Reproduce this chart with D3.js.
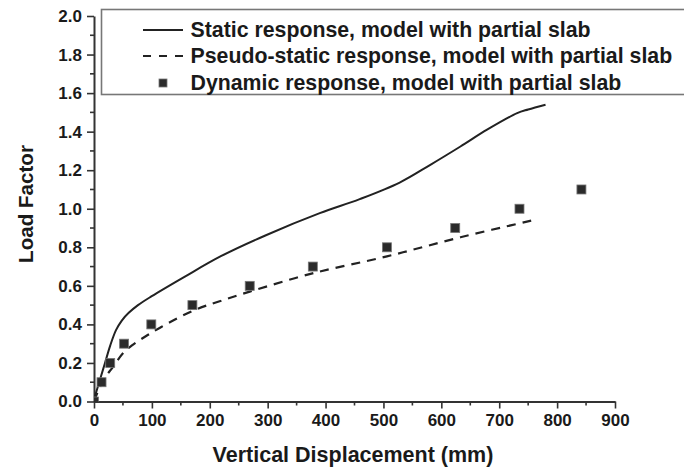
<!DOCTYPE html>
<html>
<head>
<meta charset="utf-8">
<script src="https://cdn.jsdelivr.net/npm/d3@7"></script>
<style>
  html, body { margin: 0; padding: 0; background: #fff; }
  svg { display: block; font-family: "Liberation Sans", Arial, sans-serif; font-weight: bold; }
</style>
</head>
<body>
<svg id="chart" width="684" height="468"></svg>
<script>
// Static response, model with partial slab (displacement mm, load factor)
const staticDisp = [0, 4, 10, 19, 28, 38, 48, 60, 76, 99, 157, 220, 298, 390, 459, 528, 581, 633, 679, 731, 750, 780];
const staticLoad = [0, 0.05, 0.11, 0.2, 0.29, 0.37, 0.42, 0.46, 0.50, 0.545, 0.648, 0.755, 0.864, 0.977, 1.05, 1.136, 1.228, 1.323, 1.41, 1.496, 1.515, 1.54];

// Pseudo-static response, model with partial slab
const pseudoDisp = [0, 8, 18, 33, 50, 65, 88, 117, 174, 217, 269, 379, 506, 633, 765];
const pseudoLoad = [0, 0.06, 0.12, 0.18, 0.25, 0.29, 0.336, 0.388, 0.475, 0.52, 0.57, 0.666, 0.753, 0.852, 0.945];

// Dynamic response, model with partial slab
const dynDisp = [0, 13, 28, 52, 99, 170, 269, 378, 506, 624, 735, 842];
const dynLoad = [0, 0.1, 0.2, 0.3, 0.4, 0.5, 0.6, 0.7, 0.8, 0.9, 1.0, 1.1];

const xTicks = [0, 100, 200, 300, 400, 500, 600, 700, 800, 900];
const yTicks = [0.0, 0.2, 0.4, 0.6, 0.8, 1.0, 1.2, 1.4, 1.6, 1.8, 2.0];

const legendLabels = [
  "Static response, model with partial slab",
  "Pseudo-static response, model with partial slab",
  "Dynamic response, model with partial slab"
];

const svg = d3.select("#chart");
const ink = "#1a1a1a";

const x = d3.scaleLinear().domain([0, 900]).range([94, 615]);
const y = d3.scaleLinear().domain([0, 2]).range([401.5, 16]);

// clip region for the plotted data
svg.append("defs").append("clipPath").attr("id", "plotArea")
  .append("rect")
  .attr("x", x(0)).attr("y", y(2))
  .attr("width", x(900) - x(0)).attr("height", y(0) - y(2));

// axes: major ticks with labels, minor ticks in between
const xMinor = d3.range(50, 900, 100);
const yMinor = d3.range(0.1, 2.0, 0.2);

const xAxis = svg.append("g").attr("transform", `translate(0,${y(0)})`);
xAxis.call(d3.axisBottom(x).tickValues(xTicks).tickFormat(d3.format("d")).tickSize(7).tickSizeOuter(0).tickPadding(5));
xAxis.append("g").selectAll("line").data(xMinor).join("line")
  .attr("x1", d => x(d)).attr("x2", d => x(d)).attr("y1", 0).attr("y2", 4);

const yAxis = svg.append("g").attr("transform", `translate(${x(0)},0)`);
yAxis.call(d3.axisLeft(y).tickValues(yTicks).tickFormat(d3.format(".1f")).tickSize(7).tickSizeOuter(0).tickPadding(5));
yAxis.append("g").selectAll("line").data(yMinor).join("line")
  .attr("y1", d => y(d)).attr("y2", d => y(d)).attr("x1", 0).attr("x2", -4);

[xAxis, yAxis].forEach(g => {
  g.selectAll("path.domain").attr("stroke", "#333").attr("stroke-width", 2);
  g.selectAll("line").attr("stroke", "#333").attr("stroke-width", 1.6);
  g.selectAll("text").attr("fill", ink).attr("font-size", 17).attr("font-weight", "bold")
    .attr("font-family", "Liberation Sans, Arial, sans-serif");
});

// axis titles
svg.append("text")
  .attr("x", 353).attr("y", 462)
  .attr("text-anchor", "middle")
  .attr("font-size", 21.5).attr("fill", ink)
  .text("Vertical Displacement (mm)");

svg.append("text")
  .attr("transform", "translate(33,204) rotate(-90)")
  .attr("text-anchor", "middle")
  .attr("font-size", 20.6).attr("fill", ink)
  .text("Load Factor");

// data
const plot = svg.append("g").attr("clip-path", "url(#plotArea)");
const line = d3.line().x(d => x(d[0])).y(d => y(d[1])).curve(d3.curveCatmullRom.alpha(0.5));

plot.append("path")
  .datum(staticDisp.map((d, i) => [d, staticLoad[i]]))
  .attr("d", line)
  .attr("fill", "none").attr("stroke", "#222").attr("stroke-width", 2);

plot.append("path")
  .datum(pseudoDisp.map((d, i) => [d, pseudoLoad[i]]))
  .attr("d", line)
  .attr("fill", "none").attr("stroke", "#222").attr("stroke-width", 2.2)
  .attr("stroke-dasharray", "9,7");

const sq = 9;
plot.selectAll("rect.dyn")
  .data(dynDisp.map((d, i) => [d, dynLoad[i]]))
  .join("rect")
  .attr("class", "dyn")
  .attr("x", d => x(d[0]) - sq / 2).attr("y", d => y(d[1]) - sq / 2)
  .attr("width", sq).attr("height", sq)
  .attr("fill", "#2b2b2b").attr("stroke", "#777").attr("stroke-width", 0.8);

// legend
const legend = svg.append("g");
legend.append("rect")
  .attr("x", 101.5).attr("y", 9.5)
  .attr("width", 620).attr("height", 85)
  .attr("fill", "#fff").attr("stroke", "#777").attr("stroke-width", 1.6);

const rowY = [30, 56, 83];
legend.append("line")
  .attr("x1", 143).attr("x2", 183).attr("y1", rowY[0]).attr("y2", rowY[0])
  .attr("stroke", "#222").attr("stroke-width", 2);
legend.append("line")
  .attr("x1", 143).attr("x2", 183).attr("y1", rowY[1]).attr("y2", rowY[1])
  .attr("stroke", "#222").attr("stroke-width", 2)
  .attr("stroke-dasharray", "8,8");
legend.append("rect")
  .attr("x", 163 - 4).attr("y", rowY[2] - 4).attr("width", 8).attr("height", 8)
  .attr("fill", "#2b2b2b").attr("stroke", "#777").attr("stroke-width", 0.8);

legend.selectAll("text.leg").data(legendLabels).join("text")
  .attr("class", "leg")
  .attr("x", 190.5).attr("y", (d, i) => rowY[i])
  .attr("dy", "0.35em")
  .attr("font-size", 21.3).attr("fill", ink)
  .text(d => d);
</script>
</body>
</html>
